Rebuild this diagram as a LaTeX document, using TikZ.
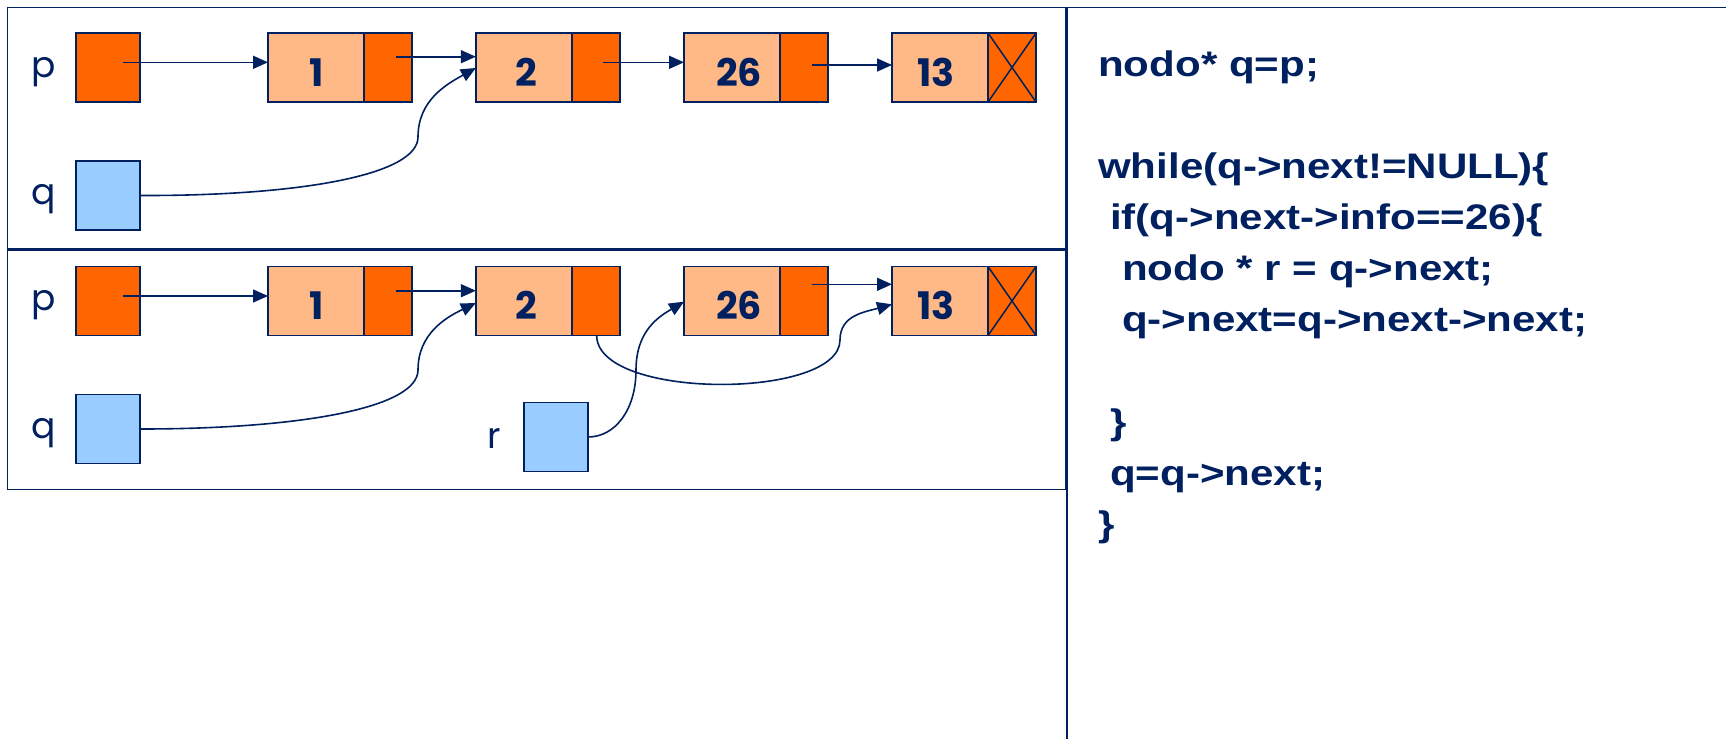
\documentclass[tikz,border=0pt]{standalone}
\usepackage{fontspec}
\setmainfont{Liberation Sans}
\newfontfamily\codefont[FakeStretch=1.185]{Liberation Sans}
\newfontfamily\geofont{Poppins}
\usetikzlibrary{arrows.meta,calc}
\definecolor{navy}{RGB}{0,32,96}
\definecolor{dkorange}{RGB}{255,102,0}
\definecolor{ltorange}{RGB}{255,185,135}
\definecolor{ltblue}{RGB}{153,204,255}
\begin{document}
\begin{tikzpicture}[x=1pt,y=-1pt,
  cell/.style={draw=navy,line width=1.5pt,minimum height=69pt,inner sep=0pt,outer sep=0pt},
  info/.style={cell,fill=ltorange,minimum width=96pt},
  ptr/.style={cell,fill=dkorange,minimum width=48pt},
  pvar/.style={cell,fill=dkorange,minimum width=64pt},
  qvar/.style={cell,fill=ltblue,minimum width=64pt},
  lab/.style={text=navy,inner sep=0pt,anchor=base,font=\geofont\fontsize{36}{40}\selectfont},
  num/.style={text=navy,inner sep=0pt,anchor=base,font=\geofont\bfseries\fontsize{38}{40}\selectfont},
  code/.style={text=navy,inner sep=0pt,anchor=base west,font=\codefont\bfseries\fontsize{35.5}{40}\selectfont},
  frame/.style={draw=navy,line width=1.5pt},
  arr/.style={draw=navy,line width=1.6pt,-{Triangle[length=15pt,width=13pt]}}
]
\useasboundingbox (0,0) rectangle (1726,739);
% frames
\draw[frame] (7.5,7.5) -- (1726,7.5);
\draw[frame] (7.5,7.5) rectangle (1066,249.3);
\draw[frame] (7.5,249.3) rectangle (1066,489.3);
\draw[navy,line width=2.6pt] (7.5,249.3) -- (1066,249.3);
\draw[navy,line width=2.2pt] (1066.7,7.5) -- (1066.7,739);

% ---------- upper panel ----------
\node[pvar] (p) at (108,67.5) {};
\node[qvar] (q) at (108,195.5) {};
\node[lab] (lp) at (44,77) {p};
\node[lab] (lq) at (44,204) {q};
\node[info] (n1i) at (316,67.5) {};
\node[ptr]  (n1p) at (388,67.5) {};
\node[info] (n2i) at (523.85,67.5) {};
\node[ptr]  (n2p) at (596,67.5) {};
\node[info] (n26i) at (732,67.5) {};
\node[ptr]  (n26p) at (804,67.5) {};
\node[info] (n13i) at (940,67.5) {};
\node[ptr]  (n13p) at (1012,67.5) {};
\draw[navy,line width=1.5pt] (n13p.north west) -- (n13p.south east) (n13p.south west) -- (n13p.north east);
\node[num] (t1) at (317,86) {1};
\node[num] (t2) at (526,86) {2};
\node[num] (t26) at (739,86) {26};
\node[num] (t13) at (936,86) {13};

\draw[arr] ($(p.center)+(15,-5.2)$) -- ($(n1i.west)+(0,-5.2)$);
\draw[arr] ($(n1p.center)+(8,-10.8)$) -- ($(n2i.west)+(0,-10.8)$);
\draw[arr] ($(n2p.center)+(7,-5.2)$) -- ($(n26i.west)+(0,-5.2)$);
\draw[arr] ($(n26p.center)+(8,-2.5)$) -- ($(n13i.west)+(0,-2.5)$);
\draw[arr] (q.east) .. controls (300,196) and (418,175) .. (418,137)
  .. controls (418,100) and (447,84) .. ($(n2i.west)+(0,0.5)$);

% ---------- lower panel ----------
\node[pvar] (P) at (108,301) {};
\node[qvar] (Q) at (108,429) {};
\node[qvar] (R) at (556,437) {};
\node[lab] (lP) at (44,310.5) {p};
\node[lab] (lQ) at (44,438) {q};
\node[lab] (lR) at (494,448) {r};
\node[info] (N1i) at (316,301) {};
\node[ptr]  (N1p) at (388,301) {};
\node[info] (N2i) at (523.85,301) {};
\node[ptr]  (N2p) at (596,301) {};
\node[info] (N26i) at (732,301) {};
\node[ptr]  (N26p) at (804,301) {};
\node[info] (N13i) at (940,301) {};
\node[ptr]  (N13p) at (1012,301) {};
\draw[navy,line width=1.5pt] (N13p.north west) -- (N13p.south east) (N13p.south west) -- (N13p.north east);
\node[num] (T1) at (317,319) {1};
\node[num] (T2) at (526,319) {2};
\node[num] (T26) at (739,319) {26};
\node[num] (T13) at (936,319) {13};

\draw[arr] ($(P.center)+(15,-5)$) -- ($(N1i.west)+(0,-5)$);
\draw[arr] ($(N1p.center)+(8,-10.3)$) -- ($(N2i.west)+(0,-10.3)$);
\draw[arr] ($(N26p.center)+(8,-16.7)$) -- ($(N13i.west)+(0,-16.7)$);
\draw[arr] (Q.east) .. controls (300,429) and (418,408) .. (418,370)
  .. controls (418,333) and (447,317) .. ($(N2i.west)+(0,2)$);
\draw[arr] ($(N2p.south)+(0.7,0)$) .. controls (596.7,400) and (840,400) .. (840,340)
  .. controls (840,315) and (865,312) .. ($(N13i.west)+(0,3.3)$);
\draw[arr] (R.east) .. controls (615,437) and (636,410) .. (636,370)
  .. controls (636,330) and (660,316) .. ($(N26i.west)+(0,0.7)$);

% ---------- code ----------
\node[code] (c1) at (1098,76.3) {nodo* q=p;};
\node[code] (c2) at (1098,178.5) {while(q->next!=NULL)\{};
\node[code] (c3) at (1110,229.6) {if(q->next->info==26)\{};
\node[code] (c4) at (1122,280.7) {nodo * r = q->next;};
\node[code] (c5) at (1122,331.8) {q->next=q->next->next;};
\node[code] (c6) at (1110,434) {\}};
\node[code] (c7) at (1110,485.1) {q=q->next;};
\node[code] (c8) at (1098,536.2) {\}};
\end{tikzpicture}
\end{document}
